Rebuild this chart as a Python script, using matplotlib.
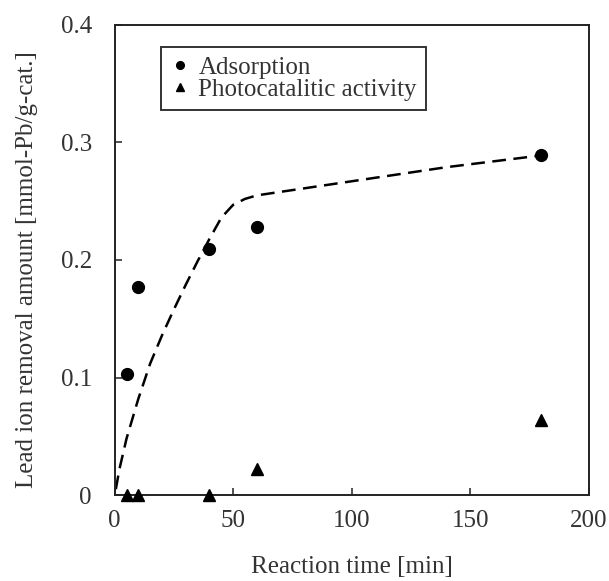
import matplotlib
matplotlib.use("Agg")
import matplotlib.pyplot as plt

# Data
ads_time = [5, 10, 40, 60, 180]
ads_amount = [0.103, 0.177, 0.209, 0.228, 0.289]
photo_time = [5, 10, 40, 60, 180]
photo_amount = [0.0, 0.0, 0.0, 0.022, 0.064]
fit_time = [0.5, 2, 5, 10, 15, 20, 25, 30, 35, 40, 45, 50, 55, 60, 80, 100, 120, 140, 160, 180]
fit_amount = [0.005, 0.022, 0.048, 0.082, 0.112, 0.136, 0.158, 0.179, 0.199, 0.218,
              0.236, 0.247, 0.252, 0.255, 0.261, 0.267, 0.273, 0.279, 0.284, 0.289]
xticks = [0, 50, 100, 150, 200]
yticks = [0, 0.1, 0.2, 0.3, 0.4]
yticklabels = ["0", "0.1", "0.2", "0.3", "0.4"]

plt.rcParams['font.family'] = ['Liberation Serif', 'DejaVu Serif']

fig = plt.figure(figsize=(6.09, 5.81), dpi=100)
ax = fig.add_axes([0.1883, 0.148, 0.7784, 0.809])

ax.plot(fit_time, fit_amount, linestyle=(0, (5.5, 3.0)), color='black', linewidth=1.8,
        dash_capstyle='butt', zorder=2)
ax.plot(ads_time, ads_amount, 'o', color='black', markersize=8.5, label='Adsorption',
        clip_on=False, zorder=3)
ax.plot(photo_time, photo_amount, '^', color='black', markersize=9, label='Photocatalitic activity',
        clip_on=False, zorder=3)

ax.set_xlim(0, 200)
ax.set_ylim(0, 0.4)
ax.set_xticks(xticks)
ax.set_yticks(yticks)
ax.set_yticklabels(yticklabels)
ax.tick_params(direction='in', length=5, width=1.2, labelsize=18, colors='#333333')
ax.tick_params(axis='y', pad=16.5)
ax.tick_params(axis='x', pad=11)
for s in ax.spines.values():
    s.set_linewidth(1.4)
    s.set_color('#222222')

ax.set_xlabel('Reaction time [min]', fontsize=18, labelpad=17, color='#333333')
ax.set_ylabel('Lead ion removal amount [mmol-Pb/g-cat.]', fontsize=18, color='#333333')
ax.yaxis.set_label_coords(-0.162, 0.479)

leg = ax.legend(loc='upper left', bbox_to_anchor=(0.0977, 0.9526), borderaxespad=0,
                frameon=True, fancybox=False, edgecolor='black', fontsize=18,
                handlelength=0.85, handletextpad=0.3, labelspacing=0.0,
                borderpad=0.35, markerscale=0.65)
leg.get_frame().set_linewidth(1.4)
for t in leg.get_texts():
    t.set_color('#333333')

fig.savefig('out.png', dpi=100)
